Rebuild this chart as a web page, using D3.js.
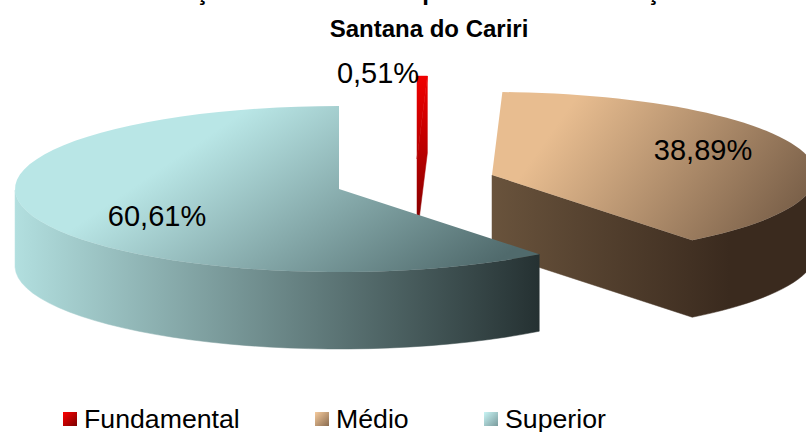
<!DOCTYPE html>
<html><head><meta charset="utf-8">
<script src="https://cdn.jsdelivr.net/npm/d3@7/dist/d3.min.js"></script>
<style>html,body{margin:0;padding:0;background:#fff}svg{display:block}text{font-family:"Liberation Sans",Arial,sans-serif;fill:#000}</style>
</head><body><svg id="c" width="806" height="432"></svg>
<script>
const categories = ["Fundamental","Médio","Superior"];
const values = [0.51,38.89,60.61];
const labels = ["0,51%","38,89%","60,61%"];
const titleLines = ["Formação de Educadores por Níveis de Instrução","Santana do Cariri"];

const W=806,H=432,RX=324,RY=83,DEPTH=77;
// pie centre per slice (exploded)
const centers=[[417,159],[492,175],[339,189]];
const labelPos=[[378,83],[703,160],[157,226]];
const legendX=[63,315,484];
// gradient stops and user-space vectors [x1,y1,x2,y2]
const topGrad=[["#f00000","#8a0000"],["#e8bd90","#7a6049"],["#b9e6e6","#506a6c"]];
const topVec=[[0,76,0,216],[560,120,760,262],[290,80,440,300]];
const sideGrad=[["#f00000","#8a0000"],["#69533c","#3a2a1e"],["#b2dfdf","#253132"]];
const sideVec=[[0,76,0,216],[492,0,730,0],[15,0,539,0]];
const swatch=[["#ff0000","#7a0000"],["#f6cb9d","#8a6c50"],["#c9f5f5","#7a9b9d"]];

const svg=d3.select("#c");
const defs=svg.append("defs");
function grad(id,c,v,user){
  const g=defs.append("linearGradient").attr("id",id)
    .attr("x1",v[0]).attr("y1",v[1]).attr("x2",v[2]).attr("y2",v[3]);
  if(user) g.attr("gradientUnits","userSpaceOnUse");
  g.append("stop").attr("offset",0).attr("stop-color",c[0]);
  g.append("stop").attr("offset",1).attr("stop-color",c[1]);
}
categories.forEach((c,i)=>{
  grad("t"+i,topGrad[i],topVec[i],true);
  grad("s"+i,sideGrad[i],sideVec[i],true);
  grad("l"+i,swatch[i],[0,0,1,1],false);
});

const arcs=d3.pie().sort(null)(values);
const proj=(i,a,z=0)=>[centers[i][0]+RX*Math.sin(a),centers[i][1]-RY*Math.cos(a)+z];
const sample=(a0,a1)=>d3.range(0,61).map(k=>a0+(a1-a0)*k/60);
const line=d3.line();
const g=svg.append("g");

// back-to-front: Fundamental, Médio, Superior
arcs.forEach((d,i)=>{
  const as=sample(d.startAngle,d.endAngle);
  const rim=as.map(a=>proj(i,a));
  const c=centers[i];
  const sl=g.append("g").attr("class","slice");
  // one continuous wall: the cut edge (where it faces the viewer) plus the visible rim
  const vis=as.filter(a=>Math.cos(a)<=0).reverse();
  let upper=vis.map(a=>proj(i,a));
  let lower=vis.map(a=>proj(i,a,DEPTH));
  if(i<2){
    const p=proj(i,d.endAngle);
    upper=[c,p].concat(upper);
    lower=[[c[0],c[1]+DEPTH],[p[0],p[1]+DEPTH]].concat(lower);
  }
  if(upper.length){
    const pts=upper.concat(lower.slice().reverse());
    sl.append("path").attr("d",line(pts)+"Z").attr("fill","url(#s"+i+")")
      .attr("stroke","url(#s"+i+")").attr("stroke-width",0.5);
  }
  sl.append("path").attr("d",line([c].concat(rim))+"Z").attr("fill","url(#t"+i+")")
    .attr("stroke","url(#t"+i+")").attr("stroke-width",i===0?0.5:0);
});

// labels
svg.selectAll("text.lab").data(labels).join("text").attr("class","lab")
  .attr("x",(d,i)=>labelPos[i][0]).attr("y",(d,i)=>labelPos[i][1])
  .attr("text-anchor","middle").attr("font-size",29).text(d=>d);

// title
svg.selectAll("text.ti").data(titleLines).join("text").attr("class","ti")
  .attr("x",(d,i)=>i?429:405).attr("y",(d,i)=>i?37:0)
  .attr("text-anchor","middle").attr("font-size",24).attr("font-weight","bold").text(d=>d);

// legend
const lg=svg.selectAll("g.lg").data(categories).join("g").attr("class","lg")
  .attr("transform",(d,i)=>`translate(${legendX[i]},0)`);
lg.append("rect").attr("y",412).attr("width",14).attr("height",14).attr("fill",(d,i)=>"url(#l"+i+")");
lg.append("text").attr("x",21).attr("y",428).attr("font-size",26.7).text(d=>d);
</script></body></html>
